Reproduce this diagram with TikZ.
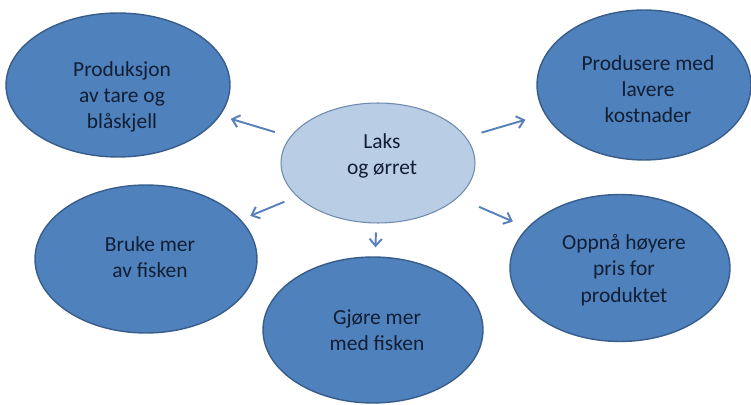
\documentclass[tikz,border=0pt]{standalone}
\usepackage{fontspec}
\setmainfont{Carlito}
\usepackage{tikz}
\usetikzlibrary{shapes.geometric,arrows.meta}
\definecolor{darkfill}{RGB}{79,129,189}
\definecolor{darkline}{RGB}{56,93,138}
\definecolor{lightfill}{RGB}{185,205,229}
\definecolor{lightline}{RGB}{110,138,175}
\definecolor{arrowblue}{RGB}{88,128,188}
\definecolor{textnavy}{RGB}{18,30,52}
\tikzstyle{bubble} = [ellipse, draw=darkline, fill=darkfill, line width=0.8pt, inner sep=0pt]
\tikzstyle{hub} = [ellipse, draw=lightline, fill=lightfill, line width=0.6pt, inner sep=0pt]
\tikzstyle{bubbletext} = [text=textnavy, align=center, font=\fontsize{12.2}{15}\selectfont, xshift=0.08cm]
\tikzstyle{connector} = [line width=1.1pt, draw=arrowblue, -{Straight Barb[length=4pt,width=7pt]}]

\begin{document}
\begin{tikzpicture}[x=0.02cm, y=-0.02cm]
        \useasboundingbox (0,0) rectangle (751,405);
        \node (laks) [hub, minimum width=3.88cm, minimum height=2.4cm, label={[bubbletext, yshift=0.14cm]center:{Laks\\og ørret}}] at (378,163) {};
        \node (tl) [bubble, minimum width=4.48cm, minimum height=2.88cm, label={[bubbletext, yshift=-0.24cm]center:{Produksjon\\av tare og\\blåskjell}}] at (118,85) {};
        \node (tr) [bubble, minimum width=4.28cm, minimum height=3cm, label={[bubbletext, yshift=-0.08cm]center:{Produsere med\\lavere\\kostnader}}] at (644,85) {};
        \node (bl) [bubble, minimum width=4.44cm, minimum height=2.96cm, label={[bubbletext, yshift=0.04cm]center:{Bruke mer\\av fisken}}] at (146,259) {};
        \node (bc) [bubble, minimum width=4.4cm, minimum height=2.92cm, label={[bubbletext]center:{Gjøre mer\\med fisken}}] at (373,330) {};
        \node (br) [bubble, minimum width=4.4cm, minimum height=2.94cm, label={[bubbletext, yshift=-0.04cm]center:{Oppnå høyere\\pris for\\produktet}}] at (620,268) {};
        \draw [connector, shorten <=0.32cm, shorten >=0.22cm] (laks) -- (tl);
        \draw [connector, shorten <=0.27cm, shorten >=0.2cm] (laks) -- (bl);
        \draw [connector, shorten <=0.32cm, shorten >=0.4cm] (laks) -- (tr);
        \draw [connector, shorten <=0.46cm, shorten >=0.31cm] (laks) -- (br);
        \draw [connector, shorten <=0.18cm, shorten >=0.18cm] (laks) -- (bc);
    \end{tikzpicture}
\end{document}
